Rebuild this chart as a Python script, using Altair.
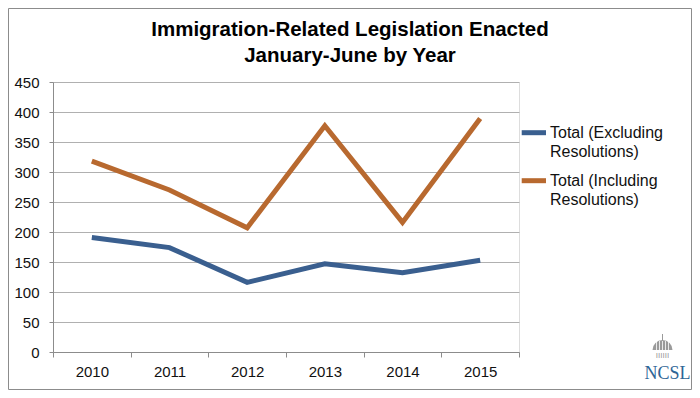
import altair as alt
import pandas as pd
import math

# ---- data ----
years = ["2010", "2011", "2012", "2013", "2014", "2015"]
series_names = ["Total (Excluding Resolutions)", "Total (Including Resolutions)"]
excluding = [191, 174, 116, 147, 132, 153]
including = [318, 270, 207, 377, 216, 389]
series_colors = ["#3a5f8f", "#b8692f"]
y_ticks = list(range(0, 451, 50))
title_lines = ["Immigration-Related Legislation Enacted", "January-June by Year"]

FONT = "Liberation Sans"

rows = []
for yr, a, b in zip(years, excluding, including):
    rows.append({"Year": yr, "Series": series_names[0], "Value": a})
    rows.append({"Year": yr, "Series": series_names[1], "Value": b})
df = pd.DataFrame(rows)

legend_df = pd.DataFrame({
    "Series": series_names,
    "Label": [s.replace(" Resolutions", "|Resolutions") for s in series_names],
})

W, H = 466, 270

lines = alt.Chart(df).mark_line(strokeWidth=5, strokeJoin="miter", strokeCap="butt").encode(
    x=alt.X("Year:N", sort=years,
            scale=alt.Scale(type="band", paddingInner=0, paddingOuter=0),
            axis=alt.Axis(title=None, labelAngle=0, tickBand="extent", tickSize=5,
                          labelPadding=7, labelFontSize=15, labelFont=FONT,
                          labelColor="#111111", domainColor="#8c8c8c",
                          tickColor="#8c8c8c", grid=False)),
    y=alt.Y("Value:Q",
            scale=alt.Scale(domain=[0, 450], nice=False, zero=True),
            axis=alt.Axis(title=None, values=y_ticks, tickSize=4, labelPadding=10,
                          labelFontSize=15, labelFont=FONT, labelColor="#111111",
                          domainColor="#8c8c8c", tickColor="#8c8c8c",
                          gridColor="#b0b0b0", grid=True)),
    color=alt.Color("Series:N", scale=alt.Scale(domain=series_names, range=series_colors),
                    legend=None),
    detail="Series:N",
)

leg_y = alt.Y("Series:N", sort=series_names,
              scale=alt.Scale(type="point", domain=series_names, range=[50.7, 98.7], padding=0),
              axis=None)
leg_color = alt.Color("Series:N", scale=alt.Scale(domain=series_names, range=series_colors),
                      legend=None)

leg_sym = alt.Chart(legend_df).mark_rule(strokeWidth=5).encode(
    x=alt.value(468.7), x2=alt.value(493.0), y=leg_y, color=leg_color)

leg_txt = alt.Chart(legend_df).mark_text(
    align="left", baseline="top", font=FONT, fontSize=16, lineBreak="|",
    lineHeight=19.5, dy=-8, color="#111111").encode(
    x=alt.value(497), y=leg_y, text="Label:N")

legend = alt.layer(leg_sym, leg_txt)

title = alt.Chart(pd.DataFrame({"t": ["|".join(title_lines)]})).mark_text(
    align="center", baseline="top", font=FONT, fontSize=20.5, fontWeight="bold",
    lineBreak="|", lineHeight=25.5, color="#000000").encode(
    x=alt.value(297), y=alt.value(-62), text="t:N")

# decorations: outer frame and NCSL logo
frame = alt.Chart(pd.DataFrame({"a": [0]})).mark_rect(
    fill=None, stroke="#8c8c8c", strokeWidth=1).encode(
    x=alt.value(-44.5), x2=alt.value(638.5), y=alt.value(-73.5), y2=alt.value(307.5))

dome = alt.Chart(pd.DataFrame({"a": [0]})).mark_arc(
    theta=1.5 * math.pi, theta2=2.5 * math.pi, outerRadius=10, fill="#9a9a9a").encode(
    x=alt.value(609.5), y=alt.value(268))
spire = alt.Chart(pd.DataFrame({"a": [0]})).mark_rule(stroke="#9a9a9a", strokeWidth=1).encode(
    x=alt.value(609.5), y=alt.value(252), y2=alt.value(259))
ribs = []
for dx in [-6, -3, 0, 3, 6]:
    ribs.append(alt.Chart(pd.DataFrame({"a": [0]})).mark_rule(stroke="#ffffff", strokeWidth=0.8).encode(
        x=alt.value(609.5 + dx), y=alt.value(259), y2=alt.value(268)))
cols = alt.Chart(pd.DataFrame({"t": ["IIIIII"]})).mark_text(
    align="center", baseline="alphabetic", font=FONT, fontSize=8, color="#9a9a9a").encode(
    x=alt.value(609.5), y=alt.value(276), text="t:N")
ncsl = alt.Chart(pd.DataFrame({"t": ["NCSL"]})).mark_text(
    align="center", baseline="alphabetic", font="Liberation Serif", fontSize=18,
    color="#2f6596").encode(
    x=alt.value(614.5), y=alt.value(297), text="t:N")

chart = alt.layer(
    lines, legend, title, frame, dome, spire, *ribs, cols, ncsl
).resolve_scale(y="independent", color="independent").properties(
    width=W, height=H,
    autosize=alt.AutoSizeParams(type="none"),
    padding={"left": 45, "top": 74, "right": 173, "bottom": 38},
).configure_view(stroke=None).configure(background="white")

chart.save("out.html", embed_options={"renderer": "svg", "actions": False})
